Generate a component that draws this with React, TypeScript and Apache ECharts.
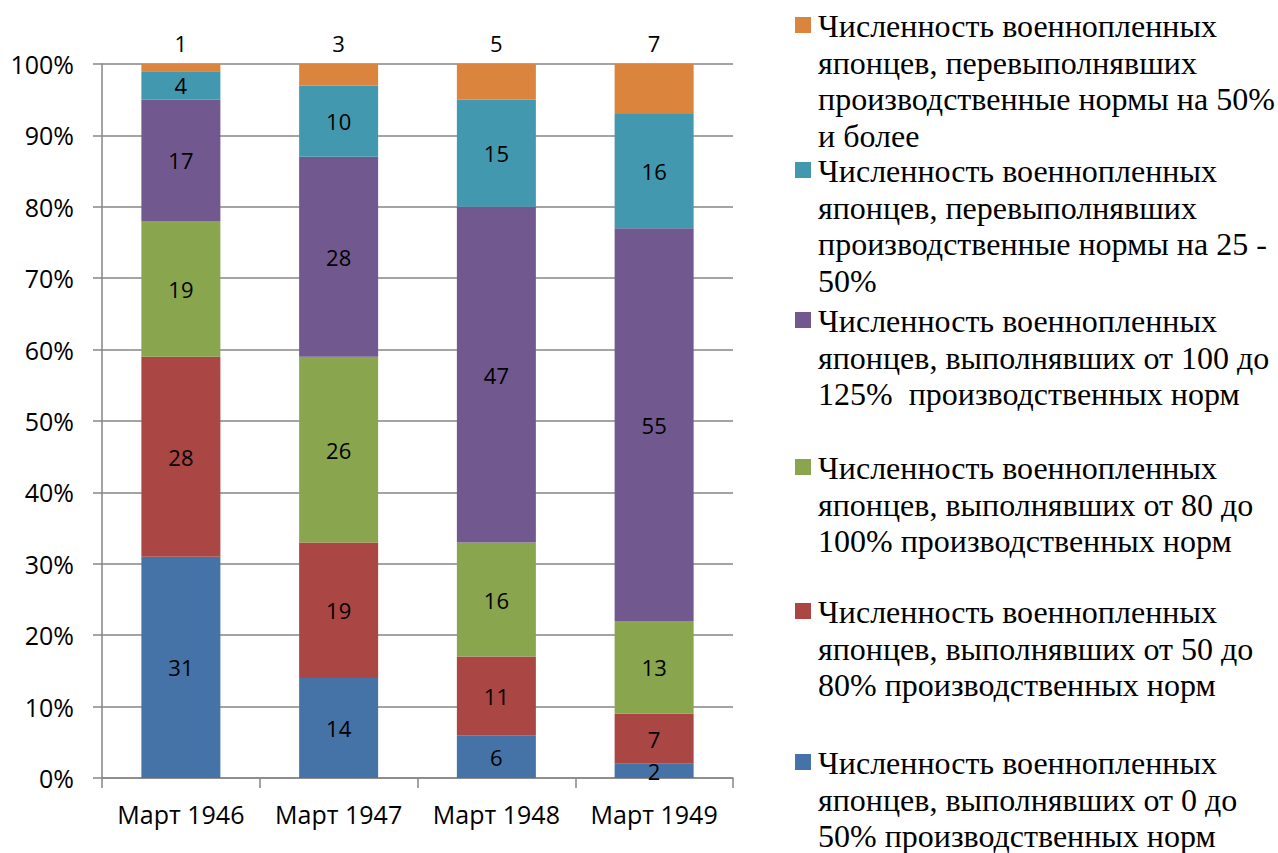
import React, { useEffect, useRef } from "react";
import * as echarts from "echarts";

const categories = ["Март 1946", "Март 1947", "Март 1948", "Март 1949"];
const yTicks = { min: 0, max: 100, interval: 10 };

const seriesNames = [
  "Численность военнопленных японцев, выполнявших от 0 до 50% производственных норм",
  "Численность военнопленных японцев, выполнявших от 50 до 80% производственных норм",
  "Численность военнопленных японцев, выполнявших от 80 до 100% производственных норм",
  "Численность военнопленных японцев, выполнявших от 100 до 125%  производственных норм",
  "Численность военнопленных японцев, перевыполнявших производственные нормы на 25 - 50%",
  "Численность военнопленных японцев, перевыполнявших производственные нормы на 50% и более",
];

const values0to50 = [31, 14, 6, 2];
const values50to80 = [28, 19, 11, 7];
const values80to100 = [19, 26, 16, 13];
const values100to125 = [17, 28, 47, 55];
const valuesOver25to50 = [4, 10, 15, 16];
const valuesOver50 = [1, 3, 5, 7];

const seriesValues = [values0to50, values50to80, values80to100, values100to125, valuesOver25to50, valuesOver50];
const colors = ["#4572A7", "#AA4643", "#89A54E", "#71588F", "#4198AF", "#DB843D"];

// Legend text lines (top item first, as in the picture)
const legendLines = [
  ["Численность военнопленных", "японцев, перевыполнявших", "производственные нормы на 50%", "и более"],
  ["Численность военнопленных", "японцев, перевыполнявших", "производственные нормы на 25 -", "50%"],
  ["Численность военнопленных", "японцев, выполнявших от 100 до", "125%  производственных норм"],
  ["Численность военнопленных", "японцев, выполнявших от 80 до", "100% производственных норм"],
  ["Численность военнопленных", "японцев, выполнявших от 50 до", "80% производственных норм"],
  ["Численность военнопленных", "японцев, выполнявших от 0 до", "50% производственных норм"],
];
const legendSeriesIndex = [5, 4, 3, 2, 1, 0];
const legendFirstLineCenters = [25, 170, 320, 467, 611, 762];

export default function App() {
  const ref = useRef<HTMLDivElement>(null);
  useEffect(() => {
    if (!ref.current) return;
    const chart = echarts.init(ref.current, undefined, { renderer: "svg" });
    const lineH = 36.7;
    const graphics: any[] = [];
    legendLines.forEach((lines, i) => {
      const c = legendFirstLineCenters[i];
      graphics.push({
        type: "rect",
        shape: { x: 795, y: c - 8, width: 16, height: 16 },
        style: { fill: colors[legendSeriesIndex[i]] },
      });
      lines.forEach((line, j) => {
        graphics.push({
          type: "text",
          x: 818,
          y: c + 1 + j * lineH,
          style: {
            text: line,
            fontFamily: "Liberation Serif",
            fontSize: 32,
            fill: "#000",
            verticalAlign: "middle",
            align: "left",
          },
        });
      });
    });

    chart.setOption({
      animation: false,
      backgroundColor: "#fff",
      grid: { left: 102, right: 545, top: 64, bottom: 75 },
      xAxis: {
        type: "category",
        data: categories,
        axisLine: { lineStyle: { color: "#868686", width: 1.5 } },
        axisTick: { show: true, length: 10, lineStyle: { color: "#868686", width: 1.5 } },
        axisLabel: { interval: 0, color: "#000", fontFamily: "Open Sans", fontSize: 25, margin: 23 },
      },
      yAxis: {
        type: "value",
        min: yTicks.min,
        max: yTicks.max,
        interval: yTicks.interval,
        axisLine: { show: true, lineStyle: { color: "#868686", width: 1.5 } },
        axisTick: { show: true, length: 9, lineStyle: { color: "#868686", width: 1.5 } },
        splitLine: { lineStyle: { color: "#868686", width: 1.5 } },
        axisLabel: { color: "#000", fontFamily: "Open Sans", fontSize: 25, margin: 28, formatter: "{value}%" },
      },
      series: seriesValues.map((vals, i) => ({
        name: seriesNames[i],
        type: "bar",
        stack: "total",
        barWidth: 79,
        data: vals,
        itemStyle: { color: colors[i] },
        label: {
          show: true,
          position: i === 5 ? "top" : "inside",
          distance: 10,
          formatter: "{c}",
          color: "#000",
          fontFamily: "Open Sans",
          fontSize: 22,
        },
      })),
      graphic: graphics,
    });
    return () => chart.dispose();
  }, []);
  return <div ref={ref} style={{ position: "fixed", left: 0, top: 0, width: 1278, height: 853 }} />;
}
